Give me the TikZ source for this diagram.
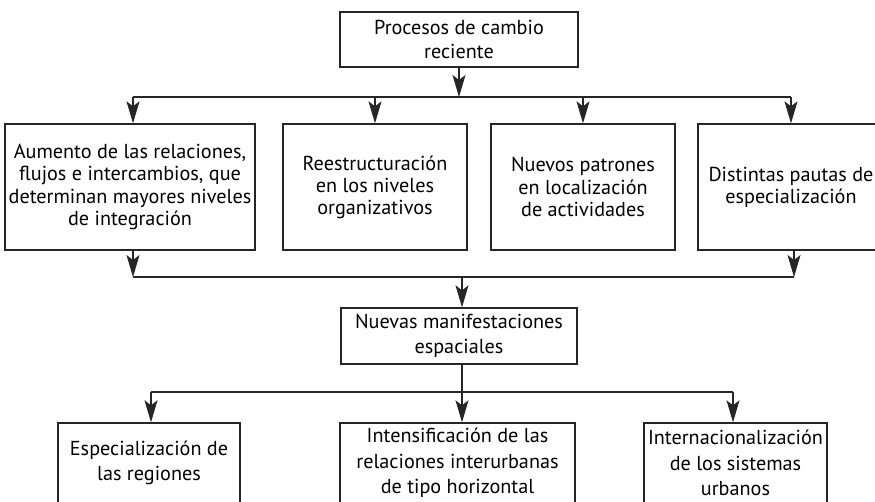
\documentclass[tikz,border=0pt]{standalone}
\usepackage{fontspec}
\setmainfont{PT Sans}
\usetikzlibrary{arrows.meta, positioning}

\begin{document}
\begin{tikzpicture}[x=0.02cm, y=-0.02cm,
        box/.style={draw=black!85, line width=0.8pt, rectangle, align=center, inner sep=2pt, font=\fontsize{11.5}{13.2}\selectfont},
        wide/.style={font=\fontsize{11.5}{14.4}\selectfont},
        tight/.style={font=\fontsize{11.5}{12.6}\selectfont},
        link/.style={draw=black!85, line width=0.6pt},
        arr/.style={link, -{Stealth[length=0.44cm, width=0.26cm, inset=0.1cm]}}]
        \useasboundingbox (0,0) rectangle (875,501);
        \clip (0,0) rectangle (875,501);
        % Nodes
        \node (proc) [box, minimum width=4.76cm, minimum height=1.1cm] at (459,39.5) {Procesos de cambio\\reciente};

        \node (aum) [box, tight, minimum width=4.84cm, minimum height=2.52cm] at (130,187) {Aumento de las relaciones,\\flujos e intercambios, que\\determinan mayores niveles\\de integración};
        \node (rees) [box, tight, minimum width=3.68cm, minimum height=2.52cm] at (375,187) {Reestructuración\\en los niveles\\organizativos};
        \node (nuev) [box, tight, minimum width=3.68cm, minimum height=2.52cm] at (583,187) {Nuevos patrones\\en localización\\de actividades};
        \node (dist) [box, tight, minimum width=3.72cm, minimum height=2.52cm] at (791,187) {Distintas pautas de\\especialización};

        \node (man) [box, wide, minimum width=4.72cm, minimum height=1.12cm] at (459,336) {Nuevas manifestaciones\\espaciales};

        \node (esp) [box, wide, minimum width=3.64cm, minimum height=1.6cm] at (149,463) {Especialización de\\las regiones};
        \node (intens) [box, wide, minimum width=4.7cm, minimum height=1.6cm] at (457.5,463) {Intensificación de las\\relaciones interurbanas\\de tipo horizontal};
        \node (intern) [box, wide, minimum width=3.66cm, minimum height=1.6cm] at (735.5,463) {Internacionalización\\de los sistemas\\urbanos};

        % Junctions
        \coordinate (busA) at (459,97);
        \coordinate (busAl) at (133,97);
        \coordinate (busAr) at (791,97);
        \coordinate (busB) at (462,277);
        \coordinate (busBl) at (133,277);
        \coordinate (busBr) at (794,277);
        \coordinate (busC) at (462,392);
        \coordinate (busCl) at (151,392);
        \coordinate (busCr) at (733,392);

        % Arrows
        \draw[arr] (proc) -- (busA);
        \draw[link] (busAl) -- (busAr);
        \draw[arr] (busAl) -- (aum.north -| busAl);
        \draw[arr] (rees.north |- busA) -- (rees);
        \draw[arr] (nuev.north |- busA) -- (nuev);
        \draw[arr] (busAr) -- (dist);

        \draw[arr] (aum.south -| busBl) -- (busBl);
        \draw[arr] (dist.south -| busBr) -- (busBr);
        \draw[link] (busBl) -- (busBr);
        \draw[arr] (busB) -- (man.north -| busB);

        \draw[link] (man.south -| busC) -- (busC);
        \draw[link] (busCl) -- (busCr);
        \draw[arr] (busCl) -- (esp.north -| busCl);
        \draw[arr] (busC) -- (intens.north -| busC);
        \draw[arr] (busCr) -- (intern.north -| busCr);
    \end{tikzpicture}
\end{document}
